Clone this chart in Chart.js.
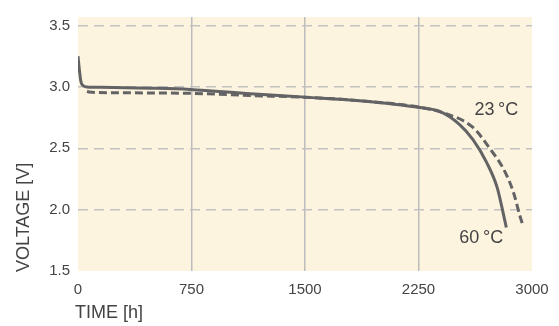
<!DOCTYPE html>
<html>
<head>
<meta charset="utf-8">
<script src="https://cdn.jsdelivr.net/npm/chart.js@4"></script>
<style>
  html, body { margin: 0; padding: 0; background: #fff; }
  canvas { display: block; }
</style>
</head>
<body>
<canvas id="chart" width="559" height="326"></canvas>
<script>
// discharge curves
const time60 = [0, 8, 20, 35, 60, 150, 480, 740, 1140, 1500, 1860, 2260, 2390, 2520, 2610, 2700, 2770, 2810, 2830];
const volt60 = [3.25, 3.15, 3.04, 3.01, 3.0, 2.997, 2.99, 2.98, 2.945, 2.917, 2.888, 2.832, 2.8, 2.695, 2.57, 2.385, 2.18, 1.97, 1.855];
const time23 = [60, 75, 300, 740, 1140, 1500, 1860, 2260, 2410, 2610, 2720, 2810, 2875, 2920, 2940];
const volt23 = [2.965, 2.958, 2.952, 2.948, 2.93, 2.916, 2.888, 2.834, 2.79, 2.67, 2.5, 2.335, 2.15, 1.95, 1.87];
const xTicks = [0, 750, 1500, 2250, 3000];
const yTicks = [1.5, 2.0, 2.5, 3.0, 3.5];

const lineColor = "#636365";
const textColor = "#444";
const font = "'Liberation Sans', Arial, sans-serif";

function toPoints(xs, ys) {
  return xs.map((x, i) => ({x: x, y: ys[i]}));
}

const decor = {
  id: "decor",
  beforeDraw(chart) {
    const {ctx, chartArea: a} = chart;
    ctx.save();
    ctx.fillStyle = "#fdf4df";
    ctx.fillRect(a.left, a.top, a.right - a.left, a.bottom - a.top);
    ctx.restore();
  },
  afterDraw(chart) {
    const {ctx} = chart;
    const xs = chart.scales.x, ys = chart.scales.y;
    ctx.save();
    ctx.fillStyle = textColor;
    ctx.font = "18px " + font;
    ctx.textBaseline = "middle";
    ctx.textAlign = "left";
    ctx.fillText("TIME [h]", 75, 313);
    ctx.translate(24, 272);
    ctx.rotate(-Math.PI / 2);
    ctx.fillText("VOLTAGE [V]", 0, 0);
    ctx.restore();

    // curve labels
    ctx.save();
    ctx.fillStyle = textColor;
    ctx.font = "18px " + font;
    ctx.textBaseline = "middle";
    ctx.textAlign = "left";
    ctx.fillText("23\u2009°C", xs.getPixelForValue(2620), ys.getPixelForValue(2.81));
    ctx.fillText("60\u2009°C", xs.getPixelForValue(2520), ys.getPixelForValue(1.77));
    ctx.restore();
  }
};

new Chart("chart", {
  type: "line",
  data: {
    datasets: [{
      label: "60 °C",
      data: toPoints(time60, volt60),
      borderColor: lineColor,
      borderWidth: 3,
      pointRadius: 0,
      fill: false,
      cubicInterpolationMode: "monotone"
    }, {
      label: "23 °C",
      data: toPoints(time23, volt23),
      borderColor: lineColor,
      borderWidth: 3,
      borderDash: [8, 4],
      pointRadius: 0,
      fill: false,
      cubicInterpolationMode: "monotone"
    }]
  },
  options: {
    responsive: false,
    devicePixelRatio: 1,
    animation: false,
    layout: {padding: {top: 4, right: 27, left: 0, bottom: 0}},
    plugins: {legend: {display: false}, tooltip: {enabled: false}},
    scales: {
      x: {
        type: "linear",
        min: 0,
        max: 3000,
        afterBuildTicks: s => { s.ticks = xTicks.map(v => ({value: v})); },
        afterFit: s => { s.height = 55; },
        ticks: {
          color: textColor,
          font: {family: font, size: 15},
          padding: 10,
          maxRotation: 0,
          callback: v => String(v)
        },
        grid: {
          color: c => (c.tick && (c.tick.value === 0 || c.tick.value === 3000)) ? "rgba(0,0,0,0)" : "#bcbcbc",
          lineWidth: 1.5,
          drawTicks: false
        },
        border: {display: false}
      },
      y: {
        type: "linear",
        min: 1.5,
        max: 3.57,
        afterBuildTicks: s => { s.ticks = yTicks.map(v => ({value: v})); },
        afterFit: s => { s.width = 78; },
        ticks: {
          color: textColor,
          font: {family: font, size: 15},
          padding: 8,
          callback: v => v.toFixed(1)
        },
        grid: {
          color: c => (c.tick && c.tick.value === 1.5) ? "rgba(0,0,0,0)" : "#c2c2c2",
          lineWidth: 1.5,
          drawTicks: false
        },
        border: {display: false, dash: [10, 6]}
      }
    }
  },
  plugins: [decor]
});
</script>
</body>
</html>
